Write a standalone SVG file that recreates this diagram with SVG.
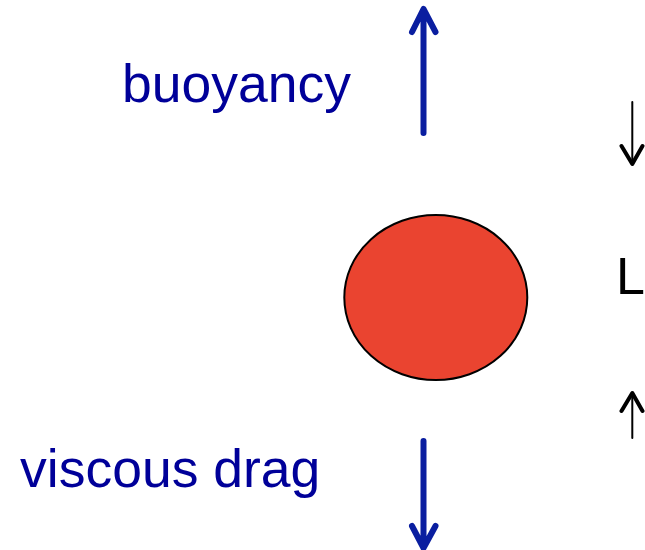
<svg xmlns="http://www.w3.org/2000/svg" width="645" height="550" viewBox="0 0 645 550">
<style>
.lbl{font-family:"Liberation Sans",Arial,sans-serif;font-size:53.5px;fill:#000099}
.blue{stroke:#0A1EA0;stroke-width:6;fill:none;stroke-linecap:round;stroke-linejoin:round}
.blk{stroke:#000;fill:none;stroke-linecap:round;stroke-linejoin:round}
</style>
<rect width="645" height="550" fill="#fff"/>
<g id="sphere">
<ellipse cx="435.8" cy="297.5" rx="91.5" ry="82.5" fill="#EA4430" stroke="#000" stroke-width="2"/>
</g>
<g id="buoyancy-label"><text class="lbl" x="122" y="102">buoyancy</text></g>
<g id="drag-label"><text class="lbl" x="20" y="487">viscous drag</text></g>
<g id="L-label"><text x="616" y="294" style="font-family:'Liberation Sans',Arial,sans-serif;font-size:52px;fill:#000">L</text></g>
<g id="connectors">
<path class="blue" d="M423.5 133 V10 M412 32 L423.5 9 L435.5 32" stroke-linecap="butt"/>
<path class="blue" d="M423.5 441 V546 M412 526 L423.5 548 L435.5 526"/>
<path class="blk" stroke-width="2" d="M632.3 102 V163"/>
<path class="blk" stroke-width="4" d="M621.5 146 L632.3 164 L642.5 146"/>
<path class="blk" stroke-width="2" d="M632.3 438 V395"/>
<path class="blk" stroke-width="4" d="M621.5 411 L632.3 393 L642.5 411"/>
</g>
</svg>
